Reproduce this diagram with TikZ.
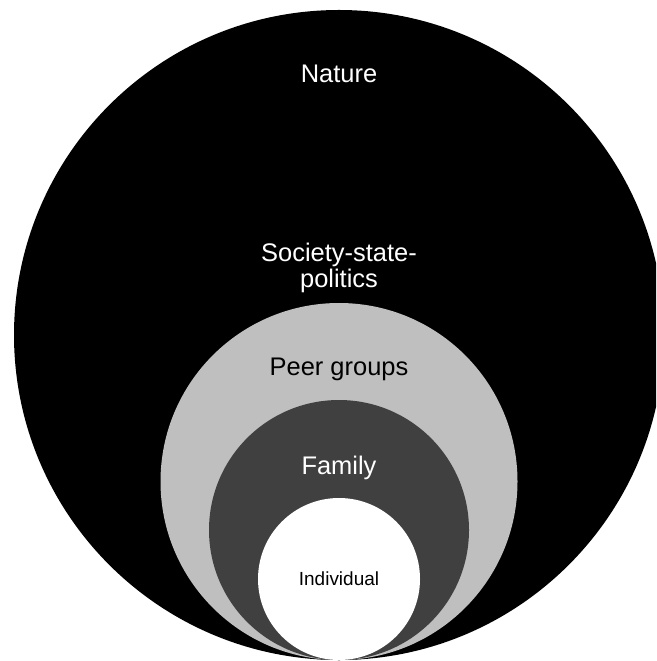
\documentclass[tikz,border=0pt]{standalone}
\usepackage{fontspec}
\setmainfont{Liberation Sans}
\usepackage{tikz}
\usetikzlibrary{positioning}
\definecolor{peergray}{HTML}{BFBFBF}
\definecolor{familygray}{HTML}{404040}
\tikzset{
	lbl/.style={font=\fontsize{18.1pt}{18.6pt}\selectfont, inner sep=0pt, align=center},
	smalllbl/.style={font=\fontsize{13.5pt}{16pt}\selectfont, inner sep=0pt}
}
\begin{document}
\begin{tikzpicture}[x=0.025cm,y=-0.025cm]
	\fill[white] (0,0) rectangle (656,661);
	\useasboundingbox (0,0) rectangle (656,661);
	\clip (0,0) rectangle (656,661);
	% circles, all touching at the bottom
	\fill[black] (339,335) circle (325);
	\fill[black] (339,433) circle (227);
	\fill[peergray] (339,481.5) circle (178.5);
	\fill[familygray] (339,530) circle (130);
	\fill[white] (339,579) circle (81);
	% labels
	\node[lbl, text=white, anchor=base] (nature) at (339,83) {Nature};
	\node[lbl, text=white] (society) at (339,268) {Society-state-\\politics};
	\node[lbl, anchor=base] (peers) at (339,375) {Peer groups};
	\node[lbl, text=white, anchor=base] (family) at (339,474) {Family};
	\node[smalllbl, anchor=base] (individual) at (339,585) {Individual};
\end{tikzpicture}
\end{document}
